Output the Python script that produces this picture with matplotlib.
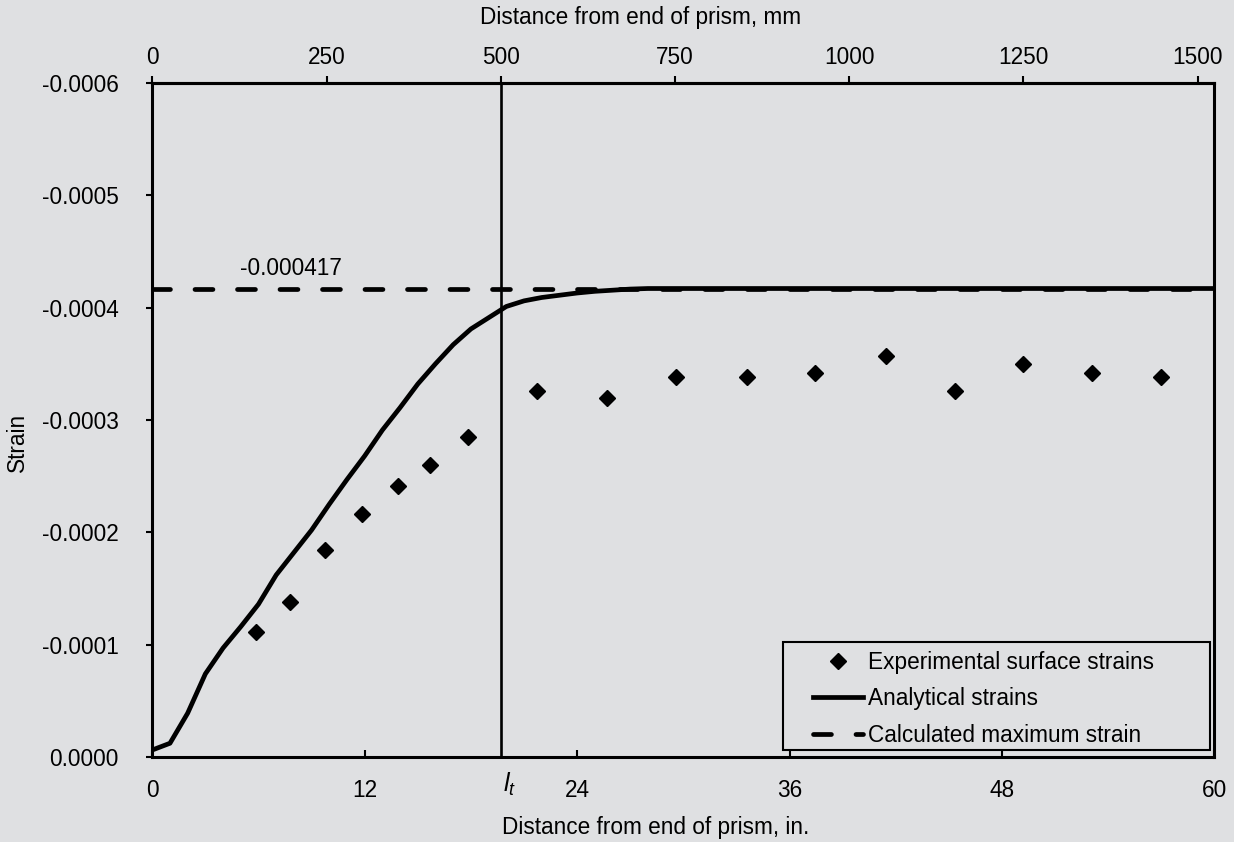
import numpy as np
import matplotlib
matplotlib.use("Agg")
import matplotlib.pyplot as plt
from matplotlib.patches import Rectangle
from matplotlib.ticker import FuncFormatter

plt.rcParams["font.family"] = ["Liberation Sans", "DejaVu Sans"]
plt.rcParams["mathtext.fontset"] = "custom"
plt.rcParams["mathtext.it"] = "Liberation Sans:italic"
plt.rcParams["mathtext.rm"] = "Liberation Sans"

# Données (distance en pouces, déformation)
analytique_x = [0, 1, 2, 3, 4, 5, 6, 7, 8, 9, 10, 11, 12, 13, 14, 15, 16, 17,
                18, 19, 20, 21, 22, 23, 24, 25, 26, 27, 28, 60]
analytique_y = [-0.0000062, -0.0000122, -0.000039, -0.000074, -0.000097,
                -0.000116, -0.000136, -0.000162, -0.000182, -0.000202,
                -0.000225, -0.000247, -0.000268, -0.000291, -0.000311,
                -0.000332, -0.000350, -0.000367, -0.000381, -0.000391,
                -0.000401, -0.000406, -0.000409, -0.000411, -0.000413,
                -0.0004145, -0.0004155, -0.0004165, -0.000417, -0.000417]

exp_x = [5.88, 7.76, 9.78, 11.87, 13.90, 15.68, 17.86, 21.72, 25.67, 29.59,
         33.61, 37.43, 41.43, 45.32, 49.19, 53.11, 57.0]
exp_y = [-0.0001116, -0.0001378, -0.0001846, -0.0002164, -0.0002413,
         -0.0002600, -0.0002847, -0.0003262, -0.0003194, -0.0003386,
         -0.0003386, -0.0003422, -0.0003571, -0.0003262, -0.0003497,
         -0.0003422, -0.0003386]

max_x = [0, 60]
max_y = [-0.000417, -0.000417]

lt_in = 500 / 25.4  # longueur de transfert

x_ticks = [0, 12, 24, 36, 48, 60]
mm_ticks = [0, 250, 500, 750, 1000, 1250, 1500]
y_ticks = [0, -0.0001, -0.0002, -0.0003, -0.0004, -0.0005, -0.0006]

fond = "#dfe0e2"
fs = 16.3

fig = plt.figure(figsize=(12.34, 8.42), dpi=100, facecolor=fond)
ax = fig.add_axes([0.1234, 0.1010, 0.8607, 0.8005])
ax.set_facecolor(fond)

ax.plot(max_x, max_y, color="black", lw=3.4, dashes=(3.8, 5.2),
        dash_capstyle="round", label="Calculated maximum strain", zorder=2)
ax.plot(analytique_x, analytique_y, color="black", lw=3.4,
        solid_joinstyle="round", label="Analytical strains", zorder=3)
ax.plot(exp_x, exp_y, linestyle="none", marker="D", ms=8, color="black",
        label="Experimental surface strains", zorder=4)
ax.axvline(lt_in, color="black", lw=1.9, zorder=1)

ax.set_xlim(0, 60)
ax.set_ylim(0, -0.0006)
ax.set_xticks(x_ticks)
ax.set_yticks(y_ticks)
ax.yaxis.set_major_formatter(FuncFormatter(lambda v, p: f"{abs(v):.4f}" if v == 0 else f"{v:.4f}"))

for s in ax.spines.values():
    s.set_linewidth(2.2)
ax.tick_params(axis="x", direction="in", length=5, width=1.5, labelsize=fs, pad=16)
ax.tick_params(axis="y", direction="out", length=4.3, width=1.5, labelsize=fs, pad=20)

ax.set_xlabel("Distance from end of prism, in.", fontsize=fs, va="center")
ax.xaxis.set_label_coords(0.4735, -0.1053)
ax.set_ylabel("Strain", fontsize=fs, va="center")
ax.yaxis.set_label_coords(-0.1265, 0.467)

sec = ax.secondary_xaxis("top", functions=(lambda x: x * 25.4, lambda m: m / 25.4))
sec.set_xticks(mm_ticks)
sec.tick_params(direction="out", length=5, width=1.5, labelsize=fs, pad=5)
sec.spines["top"].set_linewidth(2.2)
sec.set_xlabel("Distance from end of prism, mm", fontsize=fs, va="center")
sec.xaxis.set_label_coords(0.460, 1.0964, transform=ax.transAxes)

ax.text(4.95, -0.0004345, "-0.000417", fontsize=fs, ha="left", va="center")
ax.text(19.82, -0.0208, "$l_t$", fontsize=fs + 2, ha="left", va="top",
        transform=ax.get_xaxis_transform())

handles, labels = ax.get_legend_handles_labels()
ordre = [2, 1, 0]
ax.legend([handles[i] for i in ordre], [labels[i] for i in ordre],
          loc="upper left", bbox_to_anchor=(0.622, 0.1576), frameon=False,
          fontsize=fs, borderpad=0, borderaxespad=0, handlelength=2.2,
          handletextpad=0.25, labelspacing=0.6)
ax.add_patch(Rectangle((0.5934, 0.0104), 0.4023, 0.1607, transform=ax.transAxes,
                       fill=False, edgecolor="black", lw=1.5, zorder=5))

plt.savefig("out.png", dpi=100, facecolor=fond)
